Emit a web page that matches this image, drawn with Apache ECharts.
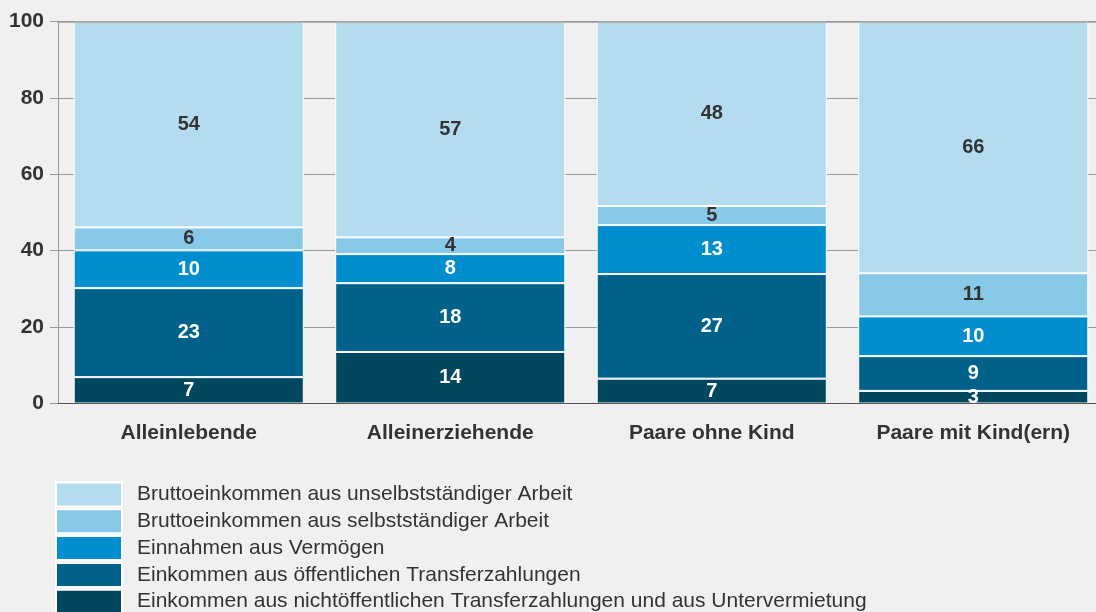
<!DOCTYPE html>
<html>
<head>
<meta charset="utf-8">
<script src="https://cdn.jsdelivr.net/npm/echarts@6/dist/echarts.min.js"></script>
<style>
  html, body { margin: 0; padding: 0; background: #f0f0f0; overflow: hidden; }
  #chart { width: 1104px; height: 612px; }
</style>
</head>
<body>
<div id="chart"></div>
<script>
// Kategorien
const categories = ['Alleinlebende', 'Alleinerziehende', 'Paare ohne Kind', 'Paare mit Kind(ern)']
// Anteile in %, von unten nach oben gestapelt
const nichtOeffentlich = [6.9, 13.5, 6.5, 3.3]
const oeffentlich = [23.3, 18.0, 27.4, 9.1]
const vermoegen = [9.9, 7.6, 12.8, 10.4]
const selbststaendig = [6.0, 4.4, 5.0, 11.3]
const unselbststaendig = [53.9, 56.5, 48.3, 65.9]
const yTicks = [0, 20, 40, 60, 80, 100]

const names = [
  'Einkommen aus nichtöffentlichen Transferzahlungen und aus Untervermietung',
  'Einkommen aus öffentlichen Transferzahlungen',
  'Einnahmen aus Vermögen',
  'Bruttoeinkommen aus selbstständiger Arbeit',
  'Bruttoeinkommen aus unselbstständiger Arbeit'
]
const colors = ['#00475f', '#00628a', '#008ecf', '#89c9e8', '#b3ddef']
const labelColors = ['#ffffff', '#ffffff', '#ffffff', '#333333', '#333333']
const values = [nichtOeffentlich, oeffentlich, vermoegen, selbststaendig, unselbststaendig]

const font = '"Liberation Sans", Arial, sans-serif'

const chart = echarts.init(document.getElementById('chart'))

const series = values.map((data, i) => ({
  name: names[i],
  type: 'bar',
  stack: 'total',
  data: data,
  barCategoryGap: '12%',
  itemStyle: { color: colors[i], borderColor: '#ffffff', borderWidth: 1 },
  label: {
    show: true,
    position: 'inside',
    formatter: p => Math.round(p.value),
    color: labelColors[i],
    fontFamily: font,
    fontWeight: 'bold',
    fontSize: 20
  }
}))

chart.setOption({
  backgroundColor: '#f0f0f0',
  animation: false,
  grid: { left: 58, right: 0, top: 21.5, bottom: 208.5, outerBoundsMode: 'none' },
  legend: {
    orient: 'vertical',
    left: 50,
    top: 476.5,
    height: 300,
    icon: 'rect',
    itemWidth: 66,
    itemHeight: 24,
    itemGap: 0.8,
    data: names.slice().reverse(),
    textStyle: { fontFamily: font, fontSize: 21, lineHeight: 22, color: '#333333', padding: [0, 0, 0, 10] }
  },
  xAxis: [
    {
      type: 'category',
      data: categories,
      z: 10,
      axisLine: { lineStyle: { color: '#555555', width: 1 } },
      axisTick: { show: false },
      axisLabel: {
        margin: 19,
        color: '#333333',
        fontFamily: font,
        fontWeight: 'bold',
        fontSize: 21
      }
    },
    {
      type: 'category',
      data: categories,
      position: 'top',
      z: 10,
      axisLine: { lineStyle: { color: '#999999', width: 1.5 } },
      axisTick: { show: false },
      axisLabel: { show: false }
    }
  ],
  yAxis: {
    type: 'value',
    min: yTicks[0],
    max: yTicks[yTicks.length - 1],
    interval: 20,
    axisLine: { show: true, lineStyle: { color: '#999999' } },
    axisTick: { show: true, length: 8, lineStyle: { color: '#999999' } },
    splitLine: { lineStyle: { color: '#999999', width: 1 } },
    axisLabel: {
      margin: 14,
      color: '#333333',
      fontFamily: font,
      fontWeight: 'bold',
      fontSize: 21
    }
  },
  series: series
})
</script>
</body>
</html>
